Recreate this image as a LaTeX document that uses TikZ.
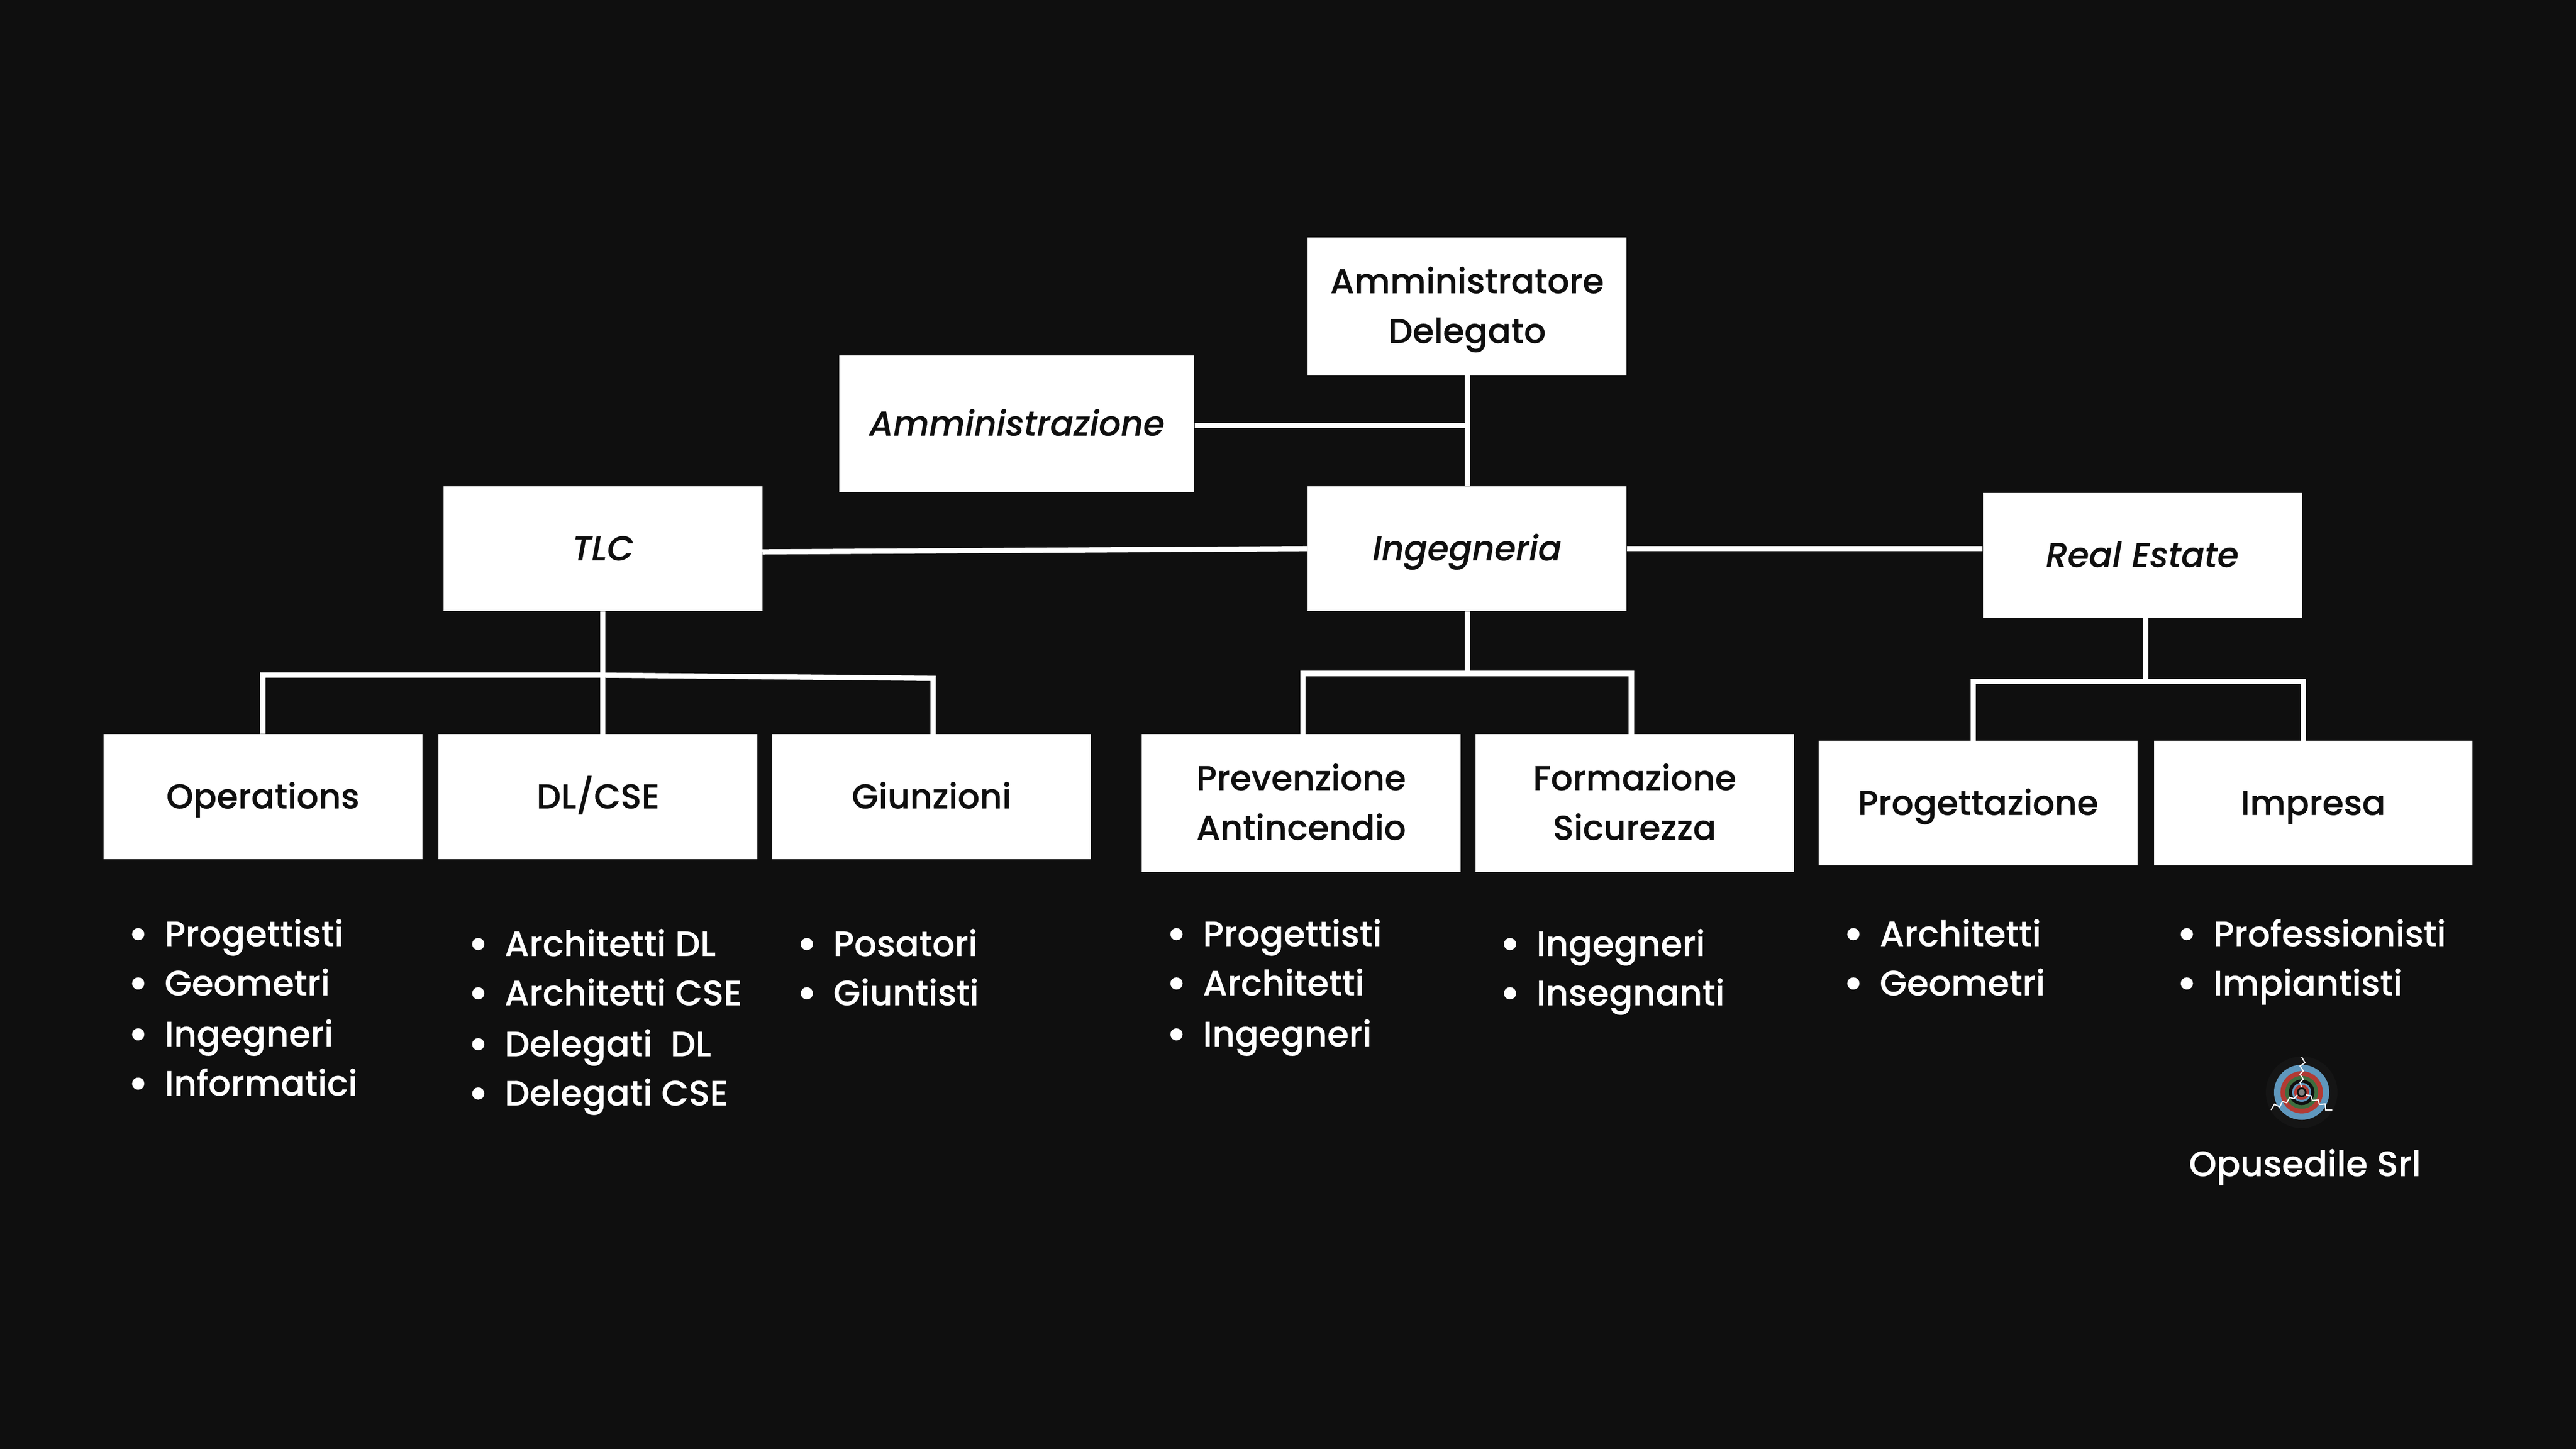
\documentclass[tikz,border=0pt]{standalone}
\usepackage{fontspec}
\setmainfont{Poppins Medium}[ItalicFont={Poppins Medium Italic},RawFeature={embolden=0.35}]
\usepackage{tikz}
\usetikzlibrary{positioning}
\definecolor{sfondo}{HTML}{0F0F0F}
\definecolor{anello}{HTML}{151515}
\definecolor{azzurro}{HTML}{5F97BD}
\definecolor{rosso}{HTML}{B23A33}
\definecolor{verde}{HTML}{3E6E3F}
\newcommand{\voce}[1]{\makebox[16pt][l]{\hspace{-6.5pt}\raisebox{-2pt}{\scalebox{1.3}{\textbullet}}}#1}
\tikzset{
  box/.style={fill=white,text=sfondo,minimum width=194pt,minimum height=76pt,inner sep=0pt,align=center,font=\fontsize{21}{30.3}\selectfont},
  boxalto/.style={box,minimum height=84pt},
  lista/.style={text=white,anchor=base west,inner sep=0pt,font=\fontsize{21.4}{30.3}\selectfont},
  linea/.style={draw=white,line width=3.2pt},
}
\newcommand{\riga}{\rule[-8pt]{0pt}{30.3pt}}
\begin{document}
\begin{tikzpicture}[x=1pt,y=-1pt]
\fill [sfondo] (0,0) rectangle (1568,882);
\useasboundingbox (0,0) rectangle (1568,882);
% caselle
\node [boxalto] (ad) at (893,186.5) {\riga Amministratore\hspace{5pt}\\\riga Delegato};
\node [boxalto,minimum width=216pt,minimum height=83pt] (amm) at (619,258) {\riga\itshape Amministrazione};
\node [box] (tlc) at (367,334) {\riga\itshape TLC};
\node [box] (ing) at (893,334) {\riga\itshape Ingegneria};
\node [box] (re) at (1304,338) {\riga\itshape Real Estate};
\node [box] (op) at (160,485) {\riga Operations};
\node [box] (dl) at (364,485) {\riga DL/CSE};
\node [box] (giu) at (567,485) {\riga Giunzioni};
\node [boxalto] (pre) at (792,489) {\riga Prevenzione\\\riga Antincendio};
\node [boxalto] (for) at (995,489) {\riga Formazione\\\riga Sicurezza};
\node [box] (prog) at (1204,489) {\riga Progettazione};
\node [box] (imp) at (1408,489) {\riga Impresa};
% collegamenti
\coordinate (ammj) at (893,259);
\coordinate (tlcj) at (367,411);
\coordinate (ingj) at (893,410);
\coordinate (rej) at (1306,415);
\draw [linea] (ad.south -| ing.north) -- (ing.north);
\draw [linea] (amm.east |- ammj) -- (ammj);
\draw [linea] (tlc.east |- 0,336) -- (ing.west);
\draw [linea] (ing.east) -- (re.west |- ing.east);
\draw [linea] (tlc.south) -- (tlc.south |- dl.north);
\draw [linea] (op.north) -- (op.north |- tlcj) -- (tlcj) -- (568,413) -- (568,447);
\draw [linea] (ing.south) -- (ingj);
\draw [linea] (793,447) -- (793,410) -- (993,410) -- (993,447);
\draw [linea] (1306,376) -- (rej);
\draw [linea] (1201,451) -- (1201,415) -- (1402,415) -- (1402,451);
% elenchi
\node [lista] (op1) at (84,576) {\voce{Progettisti}};
\node [lista] (op2) at (84,606) {\voce{Geometri}};
\node [lista] (op3) at (84,637) {\voce{Ingegneri}};
\node [lista] (op4) at (84,667) {\voce{Informatici}};
\node [lista] (dl1) at (291,582) {\voce{Architetti DL}};
\node [lista] (dl2) at (291,612) {\voce{Architetti CSE}};
\node [lista] (dl3) at (291,643) {\voce{Delegati\ \ DL}};
\node [lista] (dl4) at (291,673) {\voce{Delegati CSE}};
\node [lista] (giu1) at (491,582) {\voce{Posatori}};
\node [lista] (giu2) at (491,612) {\voce{Giuntisti}};
\node [lista] (pre1) at (716,576) {\voce{Progettisti}};
\node [lista] (pre2) at (716,606) {\voce{Architetti}};
\node [lista] (pre3) at (716,637) {\voce{Ingegneri}};
\node [lista] (for1) at (919,582) {\voce{Ingegneri}};
\node [lista] (for2) at (919,612) {\voce{Insegnanti}};
\node [lista] (prog1) at (1128,576) {\voce{Architetti}};
\node [lista] (prog2) at (1128,606) {\voce{Geometri}};
\node [lista] (imp1) at (1331,576) {\voce{Professionisti}};
\node [lista] (imp2) at (1331,606) {\voce{Impiantisti}};
% logo
\fill [anello] (1401,665) circle (21.8);
\fill [azzurro] (1401,665) circle (16.8);
\fill [rosso] (1401,665) circle (12.9);
\fill [verde] (1401,665) circle (10);
\fill [sfondo] (1401,665) circle (7.8);
\fill [azzurro] (1401,665) circle (5.8);
\fill [rosso] (1401,665) circle (4.6);
\fill [sfondo] (1401,665) circle (3);
\fill [gray] (1401,665) circle (1.9);
\foreach \ang in {0,120,240}
  \draw [white,line width=0.7pt,rotate around={\ang:(1401,665)}]
    (1401,643.5) -- (1403,647) -- (1400,649) -- (1402,652) -- (1400,654) -- (1402,657) -- (1400,659) -- (1401,662);
\node [lista,anchor=base] (firma) at (1403,716) {Opusedile Srl};
\end{tikzpicture}
\end{document}
